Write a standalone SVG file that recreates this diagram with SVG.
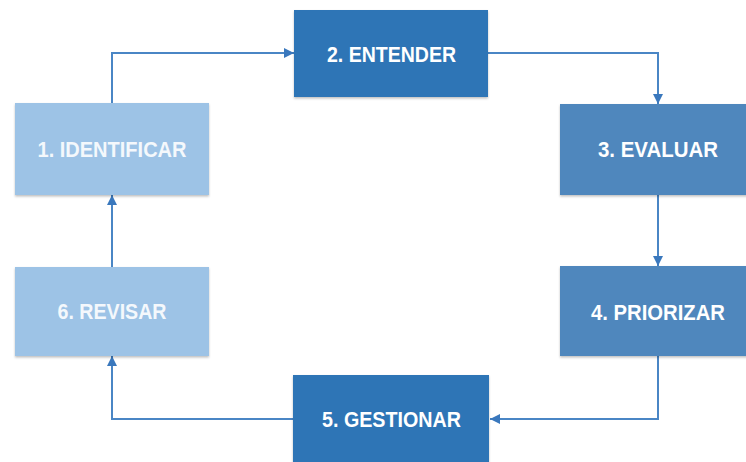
<svg xmlns="http://www.w3.org/2000/svg" width="746" height="462" viewBox="0 0 746 462">
<defs>
<marker id="ah" viewBox="0 0 10 10" refX="10" refY="5" markerWidth="10" markerHeight="10" markerUnits="userSpaceOnUse" orient="auto">
<path d="M0,0 L10,5 L0,10 z" fill="#3A78BD"/>
</marker>
<filter id="sh" x="-10%" y="-10%" width="120%" height="125%">
<feDropShadow dx="0" dy="1.5" stdDeviation="1.2" flood-color="#000" flood-opacity="0.25"/>
</filter>
</defs>
<style>
.box{filter:url(#sh);}
.light{fill:#9DC3E6;}
.dark{fill:#2E75B6;}
.mid{fill:#4F87BD;}
.lbl{font-family:"Liberation Sans",Arial,sans-serif;font-weight:bold;font-size:22.5px;fill:#FFFFFF;text-anchor:middle;}
.lbl2{fill:#F4F8FC;}
.con{fill:none;stroke:#4A86C5;stroke-width:2;marker-end:url(#ah);}
</style>
<rect width="746" height="462" fill="#FFFFFF"/>
<g id="connectors">
<path class="con" d="M112,103 V53 H294"/>
<path class="con" d="M488,53 H658 V104"/>
<path class="con" d="M658,195 V266"/>
<path class="con" d="M658,356 V419 H490"/>
<path class="con" d="M294,419 H112 V356"/>
<path class="con" d="M112,267 V195"/>
</g>
<g id="node1">
<rect class="box light" x="15" y="103" width="194" height="92"/>
<text class="lbl lbl2" x="112" y="157" textLength="149" lengthAdjust="spacingAndGlyphs">1. IDENTIFICAR</text>
</g>
<g id="node2">
<rect class="box dark" x="294" y="10" width="194" height="87"/>
<text class="lbl" x="391.5" y="62" textLength="129" lengthAdjust="spacingAndGlyphs">2. ENTENDER</text>
</g>
<g id="node3">
<rect class="box mid" x="560" y="104" width="196" height="91"/>
<text class="lbl" x="658" y="157" textLength="120" lengthAdjust="spacingAndGlyphs">3. EVALUAR</text>
</g>
<g id="node4">
<rect class="box mid" x="560" y="266" width="196" height="90"/>
<text class="lbl" x="658" y="320" textLength="134" lengthAdjust="spacingAndGlyphs">4. PRIORIZAR</text>
</g>
<g id="node5">
<rect class="box dark" x="293" y="375" width="196" height="95"/>
<text class="lbl" x="391.5" y="427" textLength="139" lengthAdjust="spacingAndGlyphs">5. GESTIONAR</text>
</g>
<g id="node6">
<rect class="box light" x="15" y="267" width="194" height="89"/>
<text class="lbl lbl2" x="112" y="319" textLength="109" lengthAdjust="spacingAndGlyphs">6. REVISAR</text>
</g>
</svg>
